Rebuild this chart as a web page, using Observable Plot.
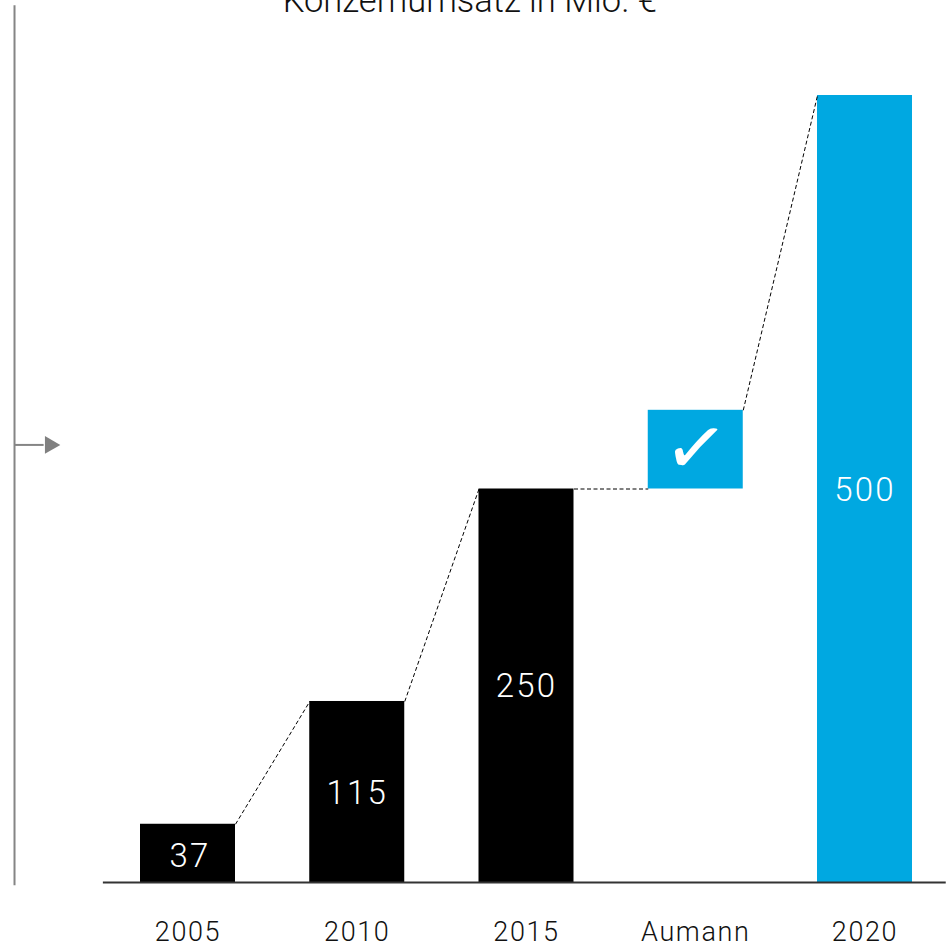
<!DOCTYPE html>
<html><head><meta charset="utf-8">
<script src="https://cdn.jsdelivr.net/npm/d3@7"></script>
<script src="https://cdn.jsdelivr.net/npm/@observablehq/plot@0.6"></script>
<style>html,body{margin:0;padding:0;background:#fff;overflow:hidden}svg{display:block}
.vals text{letter-spacing:2.2px}.ticks text{letter-spacing:1.6px}</style>
</head><body><div id="c"></div>
<script>
const categories = ["2005","2010","2015","Aumann","2020"];
const barTops = [37,115,250,300,500];
const barBottoms = [0,0,0,250,0];
const valueLabels = ["37","115","250","","500"];
const colors = ["#000000","#000000","#000000","#00a8e1","#00a8e1"];
const titleText = "Konzernumsatz in Mio. €";
const FONT = "Roboto, sans-serif";
const BW = 0.5613;
const idx = categories.map((_, i) => i);
const links = [
  {i:0, y1:37, y2:115},
  {i:1, y1:115, y2:250},
  {i:2, y1:250, y2:250},
  {i:3, y1:300, y2:500}
];
const chart = Plot.plot({
  width:946, height:948, margin:0,
  style:{background:"#fff", fontFamily:FONT},
  x:{type:"linear", domain:[0,4], range:[187.5,864.5], axis:null},
  y:{type:"linear", domain:[0,500], range:[882,95], axis:null},
  marks:[
    Plot.rect(idx,{x1:i=>i-BW/2,x2:i=>i+BW/2,y1:i=>barBottoms[i],y2:i=>barTops[i],fill:i=>colors[i]}),
    Plot.link(links,{x1:d=>d.i+BW/2,x2:d=>d.i+1-BW/2,y1:d=>d.y1,y2:d=>d.y2,stroke:"#000",strokeWidth:1,strokeDasharray:"4 2.5"}),
    Plot.ruleY([0],{x1:-0.5,x2:4.48,stroke:"#333",strokeWidth:2}),
    Plot.ruleX([-1.025],{y1:-2,y2:557,stroke:"#858585",strokeWidth:2}),
    Plot.ruleY([278],{x1:-1.025,x2:-0.85,stroke:"#858585",strokeWidth:2}),
    Plot.dot([0],{x:()=>-0.815,y:()=>278,symbol:"triangle",rotate:90,r:6.6,fill:"#808080",stroke:"none"}),
    Plot.text(idx.filter(i=>valueLabels[i]),{className:"vals",x:i=>i+(i===0?0.012:0),y:i=>i===0?17:(barTops[i]+barBottoms[i])/2,text:i=>valueLabels[i],fill:"#fff",fontSize:33,fontWeight:300,dy:1}),
    Plot.text(["✓"],{x:()=>3,y:()=>275,text:d=>d,fill:"#fff",fontSize:76,rotate:7,fontFamily:"DejaVu Sans"}),
    Plot.text(idx,{className:"ticks",x:i=>i,y:()=>0,text:i=>categories[i],fill:"#111",fontSize:27,fontWeight:300,dy:50}),
    Plot.text([titleText],{x:()=>1.665,y:()=>500,text:d=>d,fill:"#111",fontSize:34.5,fontWeight:300,dy:-95})
  ]
});
document.getElementById("c").append(chart);
</script></body></html>
